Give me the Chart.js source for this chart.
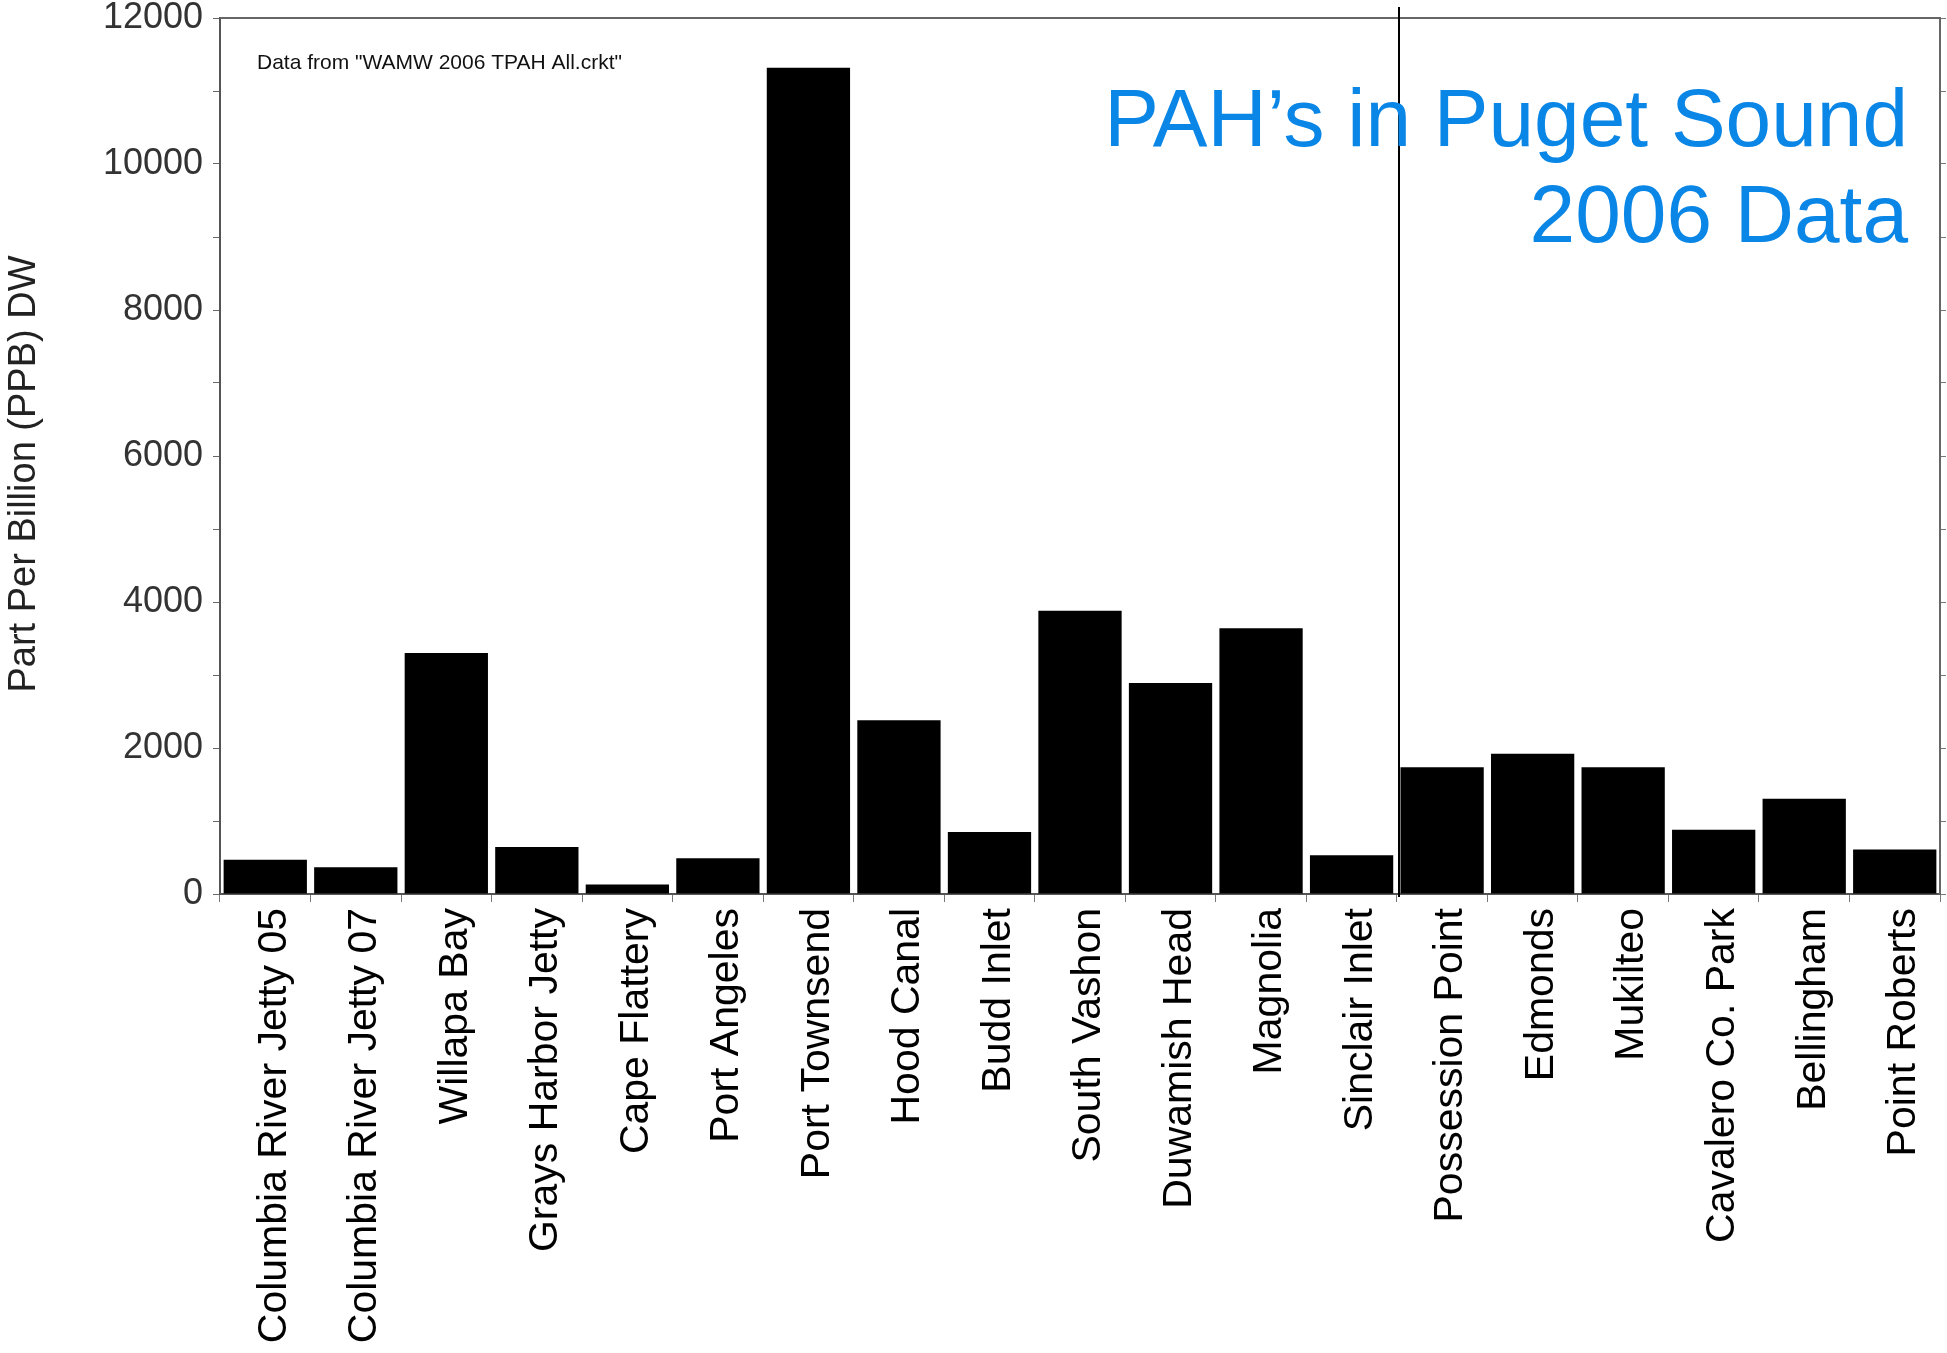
<!DOCTYPE html>
<html>
<head>
<meta charset="utf-8">
<title>PAH's in Puget Sound</title>
<script src="https://cdn.jsdelivr.net/npm/chart.js@4.4.1/dist/chart.umd.min.js"></script>
<style>
  html, body { margin: 0; padding: 0; background: #fff; }
</style>
</head>
<body>
<canvas id="pahChart" width="1947" height="1353"></canvas>
<script>
// Sampling sites, west coast first then into the Sound
const sites = [
    'Columbia River Jetty 05', 'Columbia River Jetty 07', 'Willapa Bay', 'Grays Harbor Jetty',
    'Cape Flattery', 'Port Angeles', 'Port Townsend', 'Hood Canal', 'Budd Inlet',
    'South Vashon', 'Duwamish Head', 'Magnolia', 'Sinclair Inlet', 'Possession Point',
    'Edmonds', 'Mukilteo', 'Cavalero Co. Park', 'Bellingham', 'Point Roberts'
];

// Total PAH, parts per billion dry weight
const pahPpb = [
    470, 365, 3300, 645, 130, 490, 11320, 2380, 850,
    3880, 2890, 3640, 530, 1735, 1920, 1735, 880, 1305, 610
];

// labelled ticks on the y axis (minor ticks every 1000 in between)
const yTickLabels = [0, 2000, 4000, 6000, 8000, 10000, 12000];

const yTitle = 'Part Per Billion (PPB) DW';
const titleLines = ['PAH\u2019s in Puget Sound', '2006 Data'];
const sourceNote = 'Data from "WAMW 2006 TPAH All.crkt"';

// the line splits the outer coast / straits from the inner Sound sites
const splitAfter = 'Sinclair Inlet';

const FONT = "'Liberation Sans', Arial, Helvetica, sans-serif";
Chart.defaults.font.family = FONT;

const extras = {
    id: 'extras',
    afterDraw(chart) {
        const c = chart.ctx;
        const area = chart.chartArea;
        const x = chart.scales.x;

        // top edge of the frame
        c.save();
        c.strokeStyle = '#666';
        c.lineWidth = 2;
        c.beginPath();
        c.moveTo(area.left, area.top);
        c.lineTo(area.right, area.top);
        c.stroke();

        // divider between Sinclair Inlet and Possession Point
        const i = sites.indexOf(splitAfter);
        const xs = Math.round((x.getPixelForTick(i) + x.getPixelForTick(i + 1)) / 2) + 2;
        c.strokeStyle = '#000';
        c.lineWidth = 2;
        c.beginPath();
        c.moveTo(xs, area.top - 11);
        c.lineTo(xs, area.bottom + 3);
        c.stroke();

        // y axis title, sits a little below the middle of the plot
        c.fillStyle = '#222';
        c.font = '38px ' + FONT;
        c.textAlign = 'center';
        c.textBaseline = 'middle';
        c.translate(25, (area.top + area.bottom) / 2 + 18);
        c.rotate(-Math.PI / 2);
        c.fillText(yTitle, 0, 0);
        c.setTransform(1, 0, 0, 1, 0, 0);

        // source note
        c.fillStyle = '#111';
        c.font = '21px ' + FONT;
        c.textAlign = 'left';
        c.fillText(sourceNote, area.left + 37, area.top + 45);

        // big blue title, right aligned inside the plot
        c.fillStyle = '#0a86e6';
        c.font = '82px ' + FONT;
        c.textAlign = 'right';
        c.textBaseline = 'alphabetic';
        c.fillText(titleLines[0], area.right - 32, area.top + 128);
        c.fillText(titleLines[1], area.right - 32, area.top + 224);
        c.restore();
    }
};

new Chart(document.getElementById('pahChart'), {
    type: 'bar',
    data: {
        labels: sites,
        datasets: [{
            label: 'Total PAH',
            data: pahPpb,
            backgroundColor: '#000',
            borderWidth: 0,
            barPercentage: 0.92,
            categoryPercentage: 1.0
        }]
    },
    options: {
        responsive: false,
        devicePixelRatio: 1,
        animation: false,
        layout: { padding: { top: 18, left: 0, right: 0, bottom: 0 } },
        plugins: {
            legend: { display: false },
            tooltip: { enabled: false }
        },
        scales: {
            x: {
                grid: {
                    drawOnChartArea: false,
                    offset: true,
                    tickLength: 8,
                    color: '#777'
                },
                border: { color: '#555', width: 2 },
                ticks: {
                    autoSkip: false,
                    minRotation: 90,
                    maxRotation: 90,
                    padding: 6,
                    labelOffset: 9,
                    color: '#000',
                    font: { size: 41 }
                },
                afterFit(s) {
                    s.height = 459;
                    s.paddingLeft = 0;
                    s.paddingRight = 0;
                }
            },
            y: {
                min: 0,
                max: 12000,
                ticks: {
                    stepSize: 1000,
                    padding: 10,
                    color: '#333',
                    font: { size: 36 },
                    callback: (v) => yTickLabels.includes(v) ? String(v) : ''
                },
                grid: {
                    drawOnChartArea: false,
                    tickLength: 7,
                    color: '#666'
                },
                border: { color: '#555', width: 2 },
                afterFit(s) {
                    s.width = 220;
                    s.paddingTop = 0;
                    s.paddingBottom = 0;
                }
            },
            y2: {
                position: 'right',
                min: 0,
                max: 12000,
                ticks: { display: false, stepSize: 1000 },
                grid: { drawOnChartArea: false, tickLength: 6, color: '#777' },
                border: { color: '#666', width: 2 },
                afterFit(s) {
                    s.width = 7;
                    s.paddingTop = 0;
                    s.paddingBottom = 0;
                }
            }
        }
    },
    plugins: [extras]
});
</script>
</body>
</html>
